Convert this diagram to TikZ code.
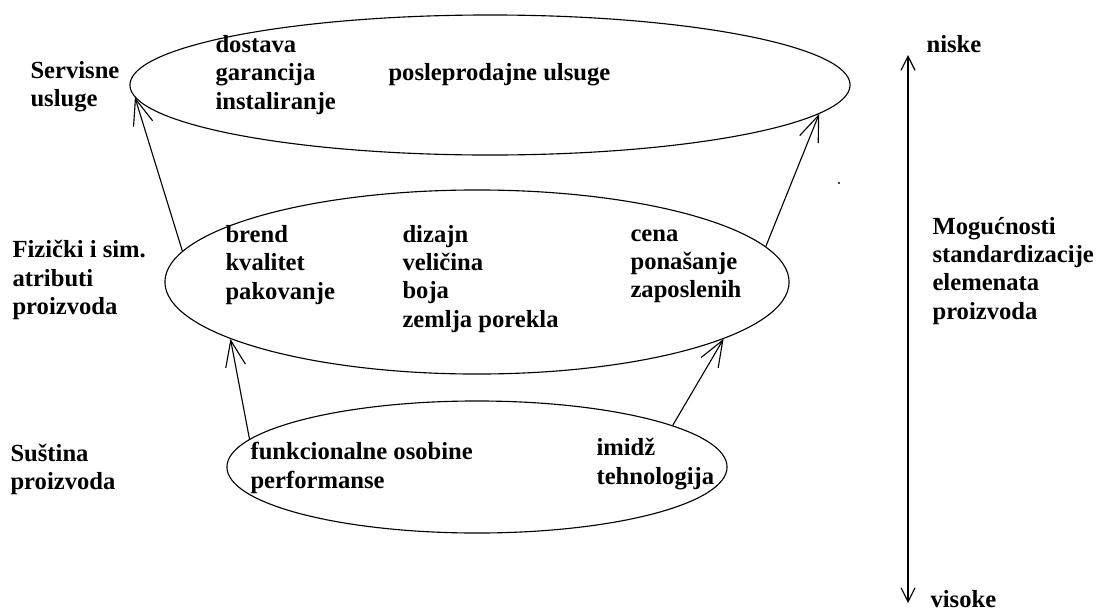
\documentclass[tikz,border=0pt]{standalone}
\usepackage{fontspec}
\setmainfont{Liberation Serif}
\usetikzlibrary{arrows.meta,shapes.geometric}
\begin{document}
\begin{tikzpicture}[
    x=0.025cm, y=-0.025cm,
    level/.style={draw, ellipse, inner sep=0pt},
    txt/.style={anchor=west, align=left, inner sep=0pt,
                font=\bfseries\fontsize{17.5}{20}\selectfont},
    up/.style={-{Straight Barb[length=6.5mm,width=5mm]}},
    scaletip/.style={{Straight Barb[length=3.5mm,width=3.5mm]}-{Straight Barb[length=3.5mm,width=3.5mm]}},
    line width=0.8pt
]
\useasboundingbox (0,0) rectangle (1113,613);

% the three levels
\node[level, minimum width=18cm, minimum height=3.5cm] (service) at (490,85) {};
\node[level, minimum width=15.6cm, minimum height=4.6cm] (attr) at (477,282) {};
\node[level, minimum width=12.5cm, minimum height=3.3cm] (core) at (477,467) {};

% left labels
\node[txt] (servlbl) at (30,87) {Servisne\\usluge};
\node[txt] (attrlbl) at (12,280) {Fizički i sim.\\atributi\\proizvoda};
\node[txt] (corelbl) at (10,469) {Suština\\proizvoda};

% contents
\node[txt] (dost) at (215,75) {dostava\\garancija\\instaliranje};
\node[txt] (posl) at (388,75) {posleprodajne ulsuge};
\node[txt] (brend) at (225,265) {brend\\kvalitet\\pakovanje};
\node[txt] (diz) at (402,279) {dizajn\\veličina\\boja\\zemlja porekla};
\node[txt] (cena) at (630,266) {cena\\ponašanje\\zaposlenih};
\node[txt] (funk) at (250,468) {funkcionalne osobine\\performanse};
\node[txt] (imid) at (596,464) {imidž\\tehnologija};

% arrows between levels
\draw[up] (attr.174) -- (service.182);
\draw[up] (attr.7) -- (service.-5);
\draw[up] (core.173) -- (attr.193);
\draw[up] (core.12) -- (attr.-13);

% scale on the right
\node[txt] (niske) at (926,44) {niske};
\node[txt] (visoke) at (930,599) {visoke};
\node[txt] (mog) at (932,271) {Mogućnosti\\standardizacije\\elemenata\\proizvoda};
\coordinate (low) at (908,603);
\coordinate (high) at (908,55);
\draw[scaletip] (low) -- (high);

\fill (839,183) circle[radius=0.8pt];
\end{tikzpicture}
\end{document}
